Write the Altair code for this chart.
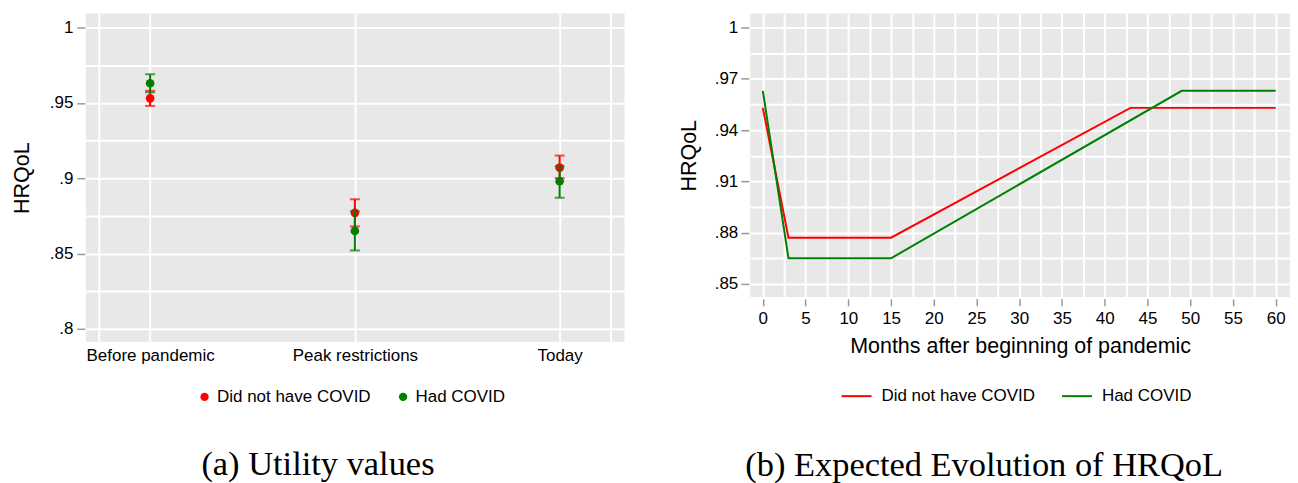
import altair as alt
import pandas as pd

# ---------------- data ----------------
periods = ["Before pandemic", "Peak restrictions", "Today"]
period_pos = [1, 2, 3]
groups = ["Did not have COVID", "Had COVID"]
colors = ["#ff0000", "#008000"]

no_covid_mean = [0.953, 0.877, 0.907]
no_covid_lo = [0.948, 0.868, 0.900]
no_covid_hi = [0.958, 0.886, 0.915]
covid_mean = [0.963, 0.865, 0.898]
covid_lo = [0.957, 0.852, 0.887]
covid_hi = [0.969, 0.878, 0.908]

months_no_covid = [0, 3, 15, 43, 60]
hrqol_no_covid = [0.953, 0.877, 0.877, 0.953, 0.953]
months_covid = [0, 3, 15, 49, 60]
hrqol_covid = [0.963, 0.865, 0.865, 0.963, 0.963]

# ---------------- styling helpers ----------------
FONT = "Liberation Sans"
SERIF = "Liberation Serif"
BG = "#e8e8e8"


def util_df(group, mean, lo, hi):
    return pd.DataFrame({"pos": period_pos, "period": periods, "group": group,
                         "mean": mean, "lo": lo, "hi": hi})


df_no = util_df(groups[0], no_covid_mean, no_covid_lo, no_covid_hi)
df_yes = util_df(groups[1], covid_mean, covid_lo, covid_hi)

label_map = " : ".join(
    [f"datum.value == {p} ? '{n}'" for p, n in zip(period_pos, periods)]
) + " : ''"

left_grid_x = [0.75] + period_pos + [3.25]
left_grid_y = [round(0.8 + 0.025 * i, 4) for i in range(9)]

major_left = "abs(datum.value * 20 - round(datum.value * 20)) < 0.001"
yfmt = "replace(format(datum.value, '.2~f'), '0.', '.')"

x_left = dict(
    scale=alt.Scale(domain=[0.686, 3.317], nice=False, zero=False),
    axis=alt.Axis(values=left_grid_x, ticks=False, labelExpr=label_map, title=None,
                  labelPadding=6, labelOverlap=False, labelBound=False, labelFlush=False),
)
y_left_axis = alt.Axis(
    values=left_grid_y, title="HRQoL", offset=1, tickSize=8, labelPadding=4,
    labelExpr=f"{major_left} ? {yfmt} : ''",
    tickOpacity={"condition": {"test": major_left, "value": 1}, "value": 0},
    titlePadding=16, labelOverlap=False,
)
y_left_scale = alt.Scale(domain=[0.7914, 1.0093], nice=False, zero=False)


def util_layers(df, color):
    base = alt.Chart(df)
    x = alt.X("pos:Q", **x_left)
    rule = base.mark_rule(color=color, strokeWidth=2).encode(
        x=x, y=alt.Y("lo:Q", scale=y_left_scale, axis=y_left_axis), y2=alt.Y2("hi:Q"))
    cap_lo = base.mark_tick(color=color, orient="horizontal", size=10, thickness=2).encode(
        x=x, y=alt.Y("lo:Q", scale=y_left_scale, axis=y_left_axis))
    cap_hi = base.mark_tick(color=color, orient="horizontal", size=10, thickness=2).encode(
        x=x, y=alt.Y("hi:Q", scale=y_left_scale, axis=y_left_axis))
    legend = alt.Legend(orient="none", legendX=110.5, legendY=375.5, direction="horizontal",
                        title=None, symbolType="circle", symbolSize=70, labelFont=FONT,
                        labelFontSize=17, labelColor="black", columnPadding=23,
                        labelOffset=4, symbolStrokeWidth=0)
    pts = base.mark_circle(size=75, opacity=1).encode(
        x=x, y=alt.Y("mean:Q", scale=y_left_scale, axis=y_left_axis),
        color=alt.Color("group:N", scale=alt.Scale(domain=groups, range=colors), legend=legend))
    return [rule, cap_lo, cap_hi, pts]


left = alt.layer(*(util_layers(df_no, colors[0]) + util_layers(df_yes, colors[1]))).properties(
    width=540, height=329,
    title=alt.TitleParams("(a) Utility values", orient="bottom", anchor="middle", frame="bounds",
                          font=SERIF, fontSize=34.5, fontWeight="normal", color="black", offset=43),
)

# ---------------- right panel ----------------
df_lines = pd.concat([
    pd.DataFrame({"month": months_no_covid, "hrqol": hrqol_no_covid, "group": groups[0]}),
    pd.DataFrame({"month": months_covid, "hrqol": hrqol_covid, "group": groups[1]}),
])

right_grid_x = [2.5 * i for i in range(25)]
right_grid_y = [round(0.85 + 0.015 * i, 4) for i in range(11)]
major_rx = "abs(datum.value / 5 - round(datum.value / 5)) < 0.001"
major_ry = "abs((datum.value - 0.85) / 0.03 - round((datum.value - 0.85) / 0.03)) < 0.001"

right = alt.Chart(df_lines).mark_line(strokeWidth=2).encode(
    x=alt.X("month:Q", scale=alt.Scale(domain=[-1.47, 61.67], nice=False, zero=False),
            axis=alt.Axis(values=right_grid_x, title="Months after beginning of pandemic",
                          offset=2, tickSize=7, labelPadding=5, titlePadding=9,
                          labelExpr=f"{major_rx} ? format(datum.value, 'd') : ''",
                          tickOpacity={"condition": {"test": major_rx, "value": 1}, "value": 0},
                          labelOverlap=False, labelFlush=False, labelBound=False)),
    y=alt.Y("hrqol:Q", scale=alt.Scale(domain=[0.8424, 1.0082], nice=False, zero=False),
            axis=alt.Axis(values=right_grid_y, title="HRQoL", offset=1.5, tickSize=8,
                          labelPadding=3, titlePadding=14,
                          labelExpr=f"{major_ry} ? {yfmt} : ''",
                          tickOpacity={"condition": {"test": major_ry, "value": 1}, "value": 0},
                          labelOverlap=False)),
    color=alt.Color("group:N", scale=alt.Scale(domain=groups, range=colors),
                    legend=alt.Legend(orient="none", legendX=90.5, legendY=367.5,
                                      direction="horizontal", title=None, symbolType="stroke",
                                      symbolSize=900, symbolStrokeWidth=2, labelFont=FONT,
                                      labelFontSize=17, labelColor="black", columnPadding=22,
                                      labelOffset=9)),
).properties(
    width=541, height=284,
    title=alt.TitleParams("(b) Expected Evolution of HRQoL", orient="bottom", anchor="middle",
                          frame="bounds", font=SERIF, fontSize=34.5, fontWeight="normal",
                          color="black", offset=45),
)

chart = alt.hconcat(left, right, spacing=53).resolve_scale(color="independent").resolve_legend(
    color="independent"
).configure_view(fill=BG, stroke=None).configure_axis(
    domain=False, gridColor="white", gridWidth=2, gridOpacity=1,
    labelFont=FONT, labelFontSize=17, labelColor="black",
    titleFont=FONT, titleFontSize=21.5, titleFontWeight="normal", titleColor="black",
    tickColor="#999999", tickWidth=1.5,
).properties(padding={"left": 3, "top": 5, "right": 0, "bottom": 0})

chart.save("out.html", embed_options={"renderer": "svg", "actions": False})
